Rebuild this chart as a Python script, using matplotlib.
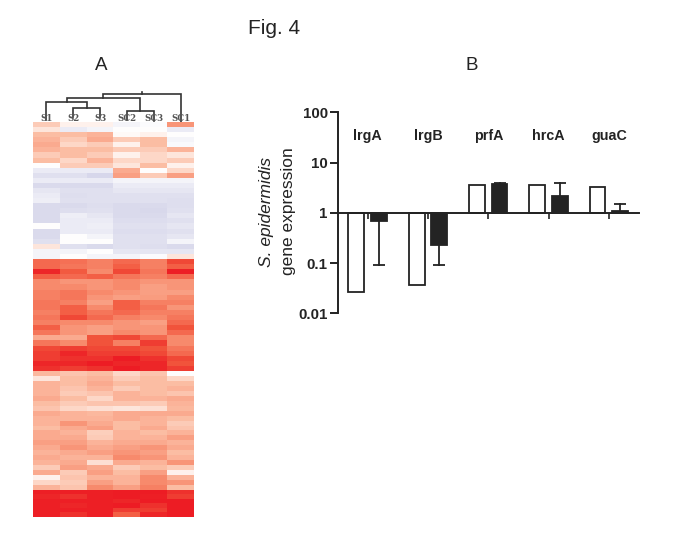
import matplotlib
matplotlib.use('Agg')
import matplotlib.pyplot as plt
import numpy as np
from matplotlib.colors import LinearSegmentedColormap, Normalize

plt.rcParams['font.family'] = ['Liberation Sans', 'DejaVu Sans']

W, H = 685, 543
INK = '#232323'

# Panel A: heatmap values in percent, negative = blue, one block per cluster
samples = ['S1', 'S2', 'S3', 'SC2', 'SC3', 'SC1']
mixed_rows = [
    [20, 5, 5, -5, -2, 45], [10, -10, -5, 0, 0, -10], [25, 25, 30, 2, 5, 0],
    [30, 20, 35, 20, 25, -5], [35, 15, 20, 5, 25, -3], [30, 25, 25, 20, 20, 30],
    [20, 25, 20, 5, 15, 10], [25, 15, 30, 15, 15, 20], [0, 20, 20, 10, 25, 5],
    [-10, -10, -10, 35, 0, 15], [-15, -15, -20, 40, 20, 40], [-10, -10, -10, -5, -5, -5],
    [-18, -18, -18, -10, -10, -10], [-12, -15, -15, -12, -12, -12], [-10, -16, -15, -15, -15, -15],
    [-8, -15, -15, -15, -15, -16], [-18, -18, -16, -18, -18, -16], [-18, -16, -15, -18, -19, -15],
    [-18, -8, -12, -18, -18, -12], [-18, -10, -10, -17, -17, -15], [0, -10, -8, -15, -15, -12],
    [-18, -10, -10, -17, -17, -15], [-18, 0, -5, -15, -15, -12], [-15, 0, 0, -15, -15, -5],
    [10, -15, -18, -15, -16, -18], [-5, -5, 0, -12, -12, -12], [-5, 0, -5, -5, -2, 10],
]
red_rows = [
    [65, 62, 55, 65, 55, 80], [65, 60, 55, 70, 55, 70], [95, 72, 50, 80, 60, 98],
    [70, 65, 70, 60, 55, 65], [50, 45, 45, 50, 45, 45], [50, 50, 45, 50, 40, 45],
    [55, 60, 50, 45, 40, 40], [55, 60, 45, 40, 42, 50], [60, 55, 40, 70, 55, 55],
    [60, 70, 50, 70, 60, 45], [55, 70, 60, 65, 55, 55], [60, 80, 65, 55, 50, 60],
    [55, 50, 50, 45, 40, 65], [70, 45, 40, 45, 45, 75], [60, 45, 40, 50, 45, 65],
    [35, 35, 75, 80, 65, 50], [60, 50, 75, 55, 85, 50], [80, 85, 80, 80, 75, 60],
    [85, 95, 85, 85, 80, 65], [85, 90, 90, 100, 90, 80], [95, 95, 100, 95, 95, 75],
    [90, 85, 90, 100, 95, 85],
]
pale_rows = [
    [28, 22, 25, 15, 22, 0], [10, 25, 30, 20, 25, 15], [30, 25, 35, 25, 25, 25],
    [30, 22, 30, 20, 25, 30], [30, 20, 22, 30, 25, 22], [35, 25, 15, 30, 30, 35],
    [25, 20, 22, 22, 20, 30], [22, 15, 12, 10, 12, 28], [35, 30, 28, 35, 35, 35],
    [30, 30, 30, 35, 30, 25], [30, 45, 35, 25, 30, 20], [25, 35, 40, 25, 35, 22],
    [35, 30, 18, 30, 25, 30], [35, 35, 20, 30, 30, 40], [40, 40, 30, 35, 35, 30],
    [35, 45, 35, 40, 45, 35], [30, 35, 40, 45, 40, 25], [35, 30, 30, 50, 45, 30],
    [30, 35, 12, 35, 30, 45], [20, 40, 35, 20, 25, 20], [35, 20, 40, 25, 40, 5],
    [5, 22, 30, 30, 50, 30], [15, 20, 40, 30, 50, 45], [30, 22, 50, 40, 55, 25],
]
dark_rows = [
    [98, 98, 98, 100, 100, 90], [95, 90, 98, 100, 98, 85], [98, 98, 98, 95, 100, 100],
    [98, 95, 98, 100, 90, 100], [98, 98, 98, 85, 85, 100], [98, 90, 98, 70, 95, 100],
]
blocks = [mixed_rows, red_rows, pale_rows, dark_rows]
block_edges = [122, 259, 371, 490, 517]

# dendrogram: left child, right child, merge height (px above the heatmap)
leaf_drop = [2, 5, 5, 2, 1, 0]
merges = [(1, 2, 14), (0, 'a', 20), (3, 4, 11), ('b', 'c', 24), ('d', 5, 28)]

# Panel B
genes = ['lrgA', 'lrgB', 'prfA', 'hrcA', 'guaC']
open_vals = [0.027, 0.037, 3.6, 3.5, 3.2]
filled_vals = [0.70, 0.23, 3.7, 2.2, 1.1]
err_low = [0.09, 0.09, None, None, None]
err_high = [None, None, 3.9, 4.0, 1.5]
y_ticks = [0.01, 0.1, 1, 10, 100]
y_labels = ['0.01', '0.1', '1', '10', '100']


def px_axes(fig, x0, y0, w, h):
    return fig.add_axes([x0 / W, 1 - (y0 + h) / H, w / W, h / H])


fig = plt.figure(figsize=(W / 100, H / 100), dpi=100)

fig.text(274.5 / W, 1 - 28 / H, 'Fig. 4', fontsize=15, color=INK, ha='center', va='center')
fig.text(101 / W, 1 - 65.5 / H, 'A', fontsize=13.5, color=INK, ha='center', va='center')
fig.text(472 / W, 1 - 65.5 / H, 'B', fontsize=13.5, color=INK, ha='center', va='center')

# heatmap
cmap = LinearSegmentedColormap.from_list('heat', [
    (0.0, (55 / 255, 55 / 255, 155 / 255)),
    (0.5, (1, 1, 1)),
    (0.625, (252 / 255, 190 / 255, 165 / 255)),
    (0.75, (248 / 255, 140 / 255, 110 / 255)),
    (0.875, (242 / 255, 85 / 255, 60 / 255)),
    (1.0, (237 / 255, 28 / 255, 36 / 255)),
])
ax_h = px_axes(fig, 33, 122, 161, 395)
for rows, top, bottom in zip(blocks, block_edges[:-1], block_edges[1:]):
    ax_h.imshow(np.array(rows), cmap=cmap, norm=Normalize(-100, 100), aspect='auto',
                interpolation='nearest', extent=(0, 6, bottom, top))
ax_h.set_xlim(0, 6)
ax_h.set_ylim(517, 122)
ax_h.axis('off')

# dendrogram
ax_d = px_axes(fig, 33, 88, 161, 34)
ax_d.set_xlim(0, 6)
ax_d.set_ylim(0, 34)
ax_d.axis('off')
for i, name in enumerate(samples):
    ax_d.text(i + 0.5, 3.5, name, family='DejaVu Serif', fontsize=6.2, fontweight='bold',
              color='#555555', ha='center', va='center')

nodes = {i: (i + 0.5, leaf_drop[i]) for i in range(6)}
for key, (left, right, height) in zip('abcde', merges):
    xl, yl = nodes[left]
    xr, yr = nodes[right]
    ax_d.plot([xl, xl, xr, xr], [yl, height, height, yr], color='#333333', lw=1.2,
              solid_joinstyle='miter')
    nodes[key] = ((xl + xr) / 2, height)
root_x, root_y = nodes['e']
ax_d.plot([root_x, root_x], [root_y, root_y + 2], color='#333333', lw=1.2)

# bar panel
ax = px_axes(fig, 337.5, 112.3, 301.5, 201)
ax.set_yscale('log')
ax.set_ylim(0.01, 100)
ax.set_xlim(0, 5)
centers = np.arange(len(genes)) + 0.5
offset = 0.187
bar_w = 0.262

open_arr = np.array(open_vals)
filled_arr = np.array(filled_vals)
ax.bar(centers - offset, open_arr - 1, bottom=1, width=bar_w, facecolor='white',
       edgecolor=INK, linewidth=1.3, zorder=2)
ax.bar(centers + offset, filled_arr - 1, bottom=1, width=bar_w, facecolor=INK,
       edgecolor=INK, linewidth=1.3, zorder=2)

for x, v, lo, hi in zip(centers + offset, filled_vals, err_low, err_high):
    end = lo if lo is not None else hi
    ax.plot([x, x], [v, end], color=INK, lw=1.3, zorder=1)
    ax.plot([x], [end], marker='_', ms=9, mew=1.3, color=INK, zorder=1)

for x, gene in zip(centers, genes):
    ax.text(x, 33.5, gene, fontsize=10.3, fontweight='bold', color=INK, ha='center', va='center')

for side in ['top', 'right']:
    ax.spines[side].set_visible(False)
ax.spines['bottom'].set_position(('data', 1))
for side in ['left', 'bottom']:
    ax.spines[side].set_linewidth(1.4)
    ax.spines[side].set_color(INK)
    ax.spines[side].set_zorder(5)
ax.set_xticks(centers)
ax.set_xticklabels([])
ax.tick_params(axis='x', length=4.5, width=1.2, color=INK)
ax.set_yticks(y_ticks)
ax.set_yticklabels(y_labels, fontsize=10.8, fontweight='bold', color=INK)
ax.minorticks_off()
ax.tick_params(axis='y', length=5.5, width=1.4, color=INK, pad=1.5)
ax.patch.set_alpha(0)

fig.text(266 / W, 1 - 211.5 / H, 'S. epidermidis', fontsize=12.5, style='italic', color=INK,
         rotation=90, ha='center', va='center')
fig.text(288 / W, 1 - 211.5 / H, 'gene expression', fontsize=12.5, color=INK,
         rotation=90, ha='center', va='center')

fig.savefig('out.png', dpi=100)
